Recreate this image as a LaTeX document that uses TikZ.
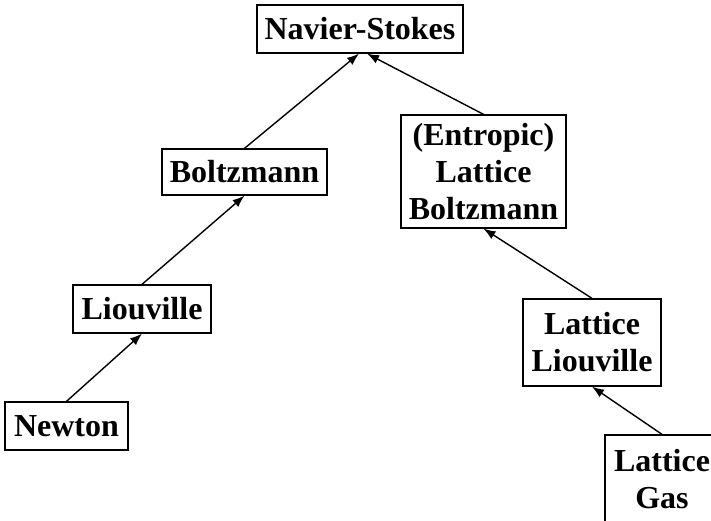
\documentclass[tikz,border=0pt]{standalone}
\usepackage{fontspec}
\setmainfont{Liberation Serif}
\usetikzlibrary{arrows.meta}

\tikzset{
    model/.style={draw, line width=1.3pt, align=center, inner sep=0pt,
        font=\bfseries\fontsize{32}{37}\selectfont},
    limit/.style={-{Latex[length=12pt, width=9pt]}, line width=1.4pt}
}

\begin{document}
\begin{tikzpicture}[x=1pt, y=1pt]
    \useasboundingbox (0,0) rectangle (711,-521);

    % Define the centres of the boxes
    \coordinate (NS) at (360,-29);
    \coordinate (B) at (244.5,-172);
    \coordinate (L) at (142,-309);
    \coordinate (N) at (66.5,-426);
    \coordinate (ELB) at (483.5,-171.5);
    \coordinate (LL) at (592,-342.5);
    \coordinate (LG) at (662,-479);

    % Continuum and kinetic chain on the left
    \node[model, minimum width=206pt, minimum height=48pt] (ns) at (NS) {Navier-Stokes};
    \node[model, minimum width=165pt, minimum height=46pt] (boltz) at (B) {Boltzmann};
    \node[model, minimum width=138pt, minimum height=48pt] (liou) at (L) {Liouville};
    \node[model, minimum width=123pt, minimum height=48pt] (newton) at (N) {Newton};

    % Lattice chain on the right
    \node[model, minimum width=165pt, minimum height=113pt] (elb) at (ELB) {(Entropic)\\Lattice\\Boltzmann};
    \node[model, minimum width=138pt, minimum height=87pt] (ll) at (LL) {Lattice\\Liouville};
    \node[model, minimum width=114pt, minimum height=88pt] (lg) at (LG) {Lattice\\Gas};

    % Arrows pointing up towards Navier-Stokes
    \draw[limit] (newton.north) -- (liou.south);
    \draw[limit] (liou.north) -- (boltz.south);
    \draw[limit] (boltz.north) -- ([xshift=-1pt]ns.south);
    \draw[limit] (lg.north) -- (ll.south);
    \draw[limit] (ll.north) -- (elb.south);
    \draw[limit] (elb.north) -- ([xshift=7pt]ns.south);
\end{tikzpicture}
\end{document}
